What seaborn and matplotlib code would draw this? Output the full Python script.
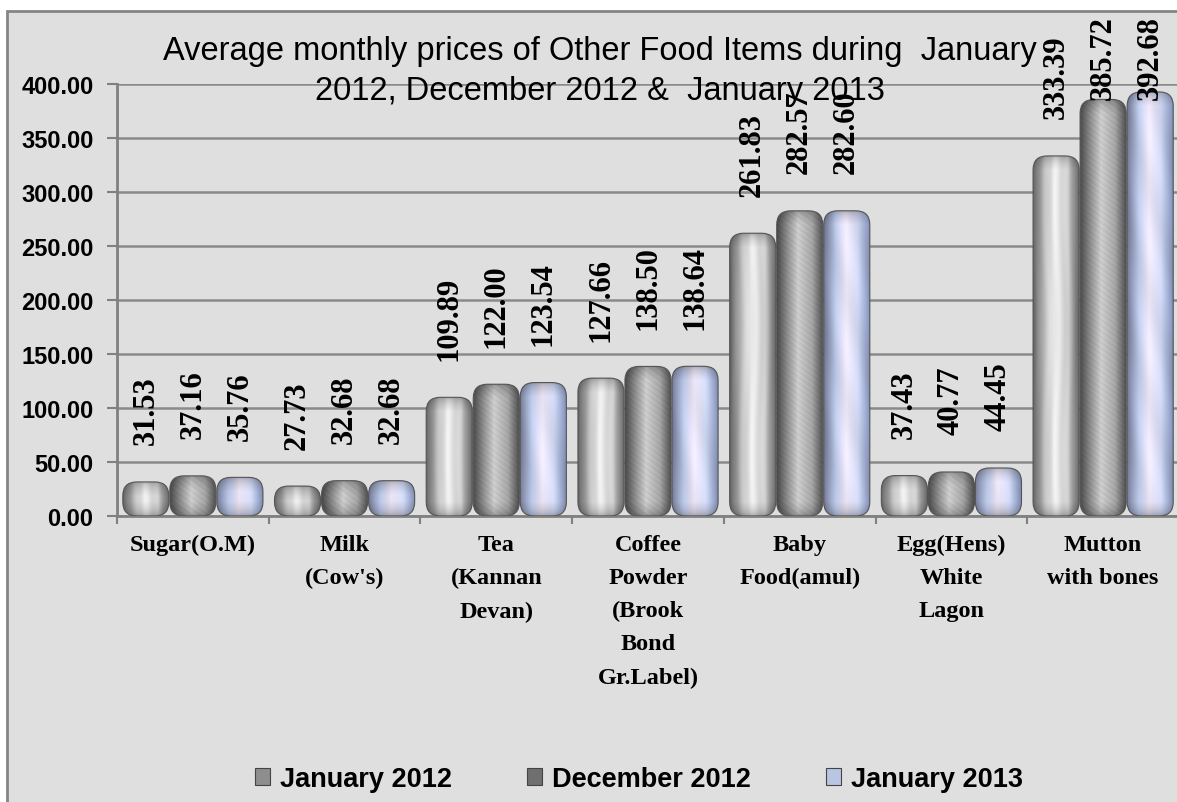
import numpy as np
import pandas as pd
import matplotlib
matplotlib.use("Agg")
import matplotlib.pyplot as plt
import seaborn as sns
from matplotlib.patches import FancyBboxPatch, Rectangle, Patch

# data
items = ["Sugar(O.M)", "Milk\n(Cow's)", "Tea\n(Kannan\nDevan)",
         "Coffee\nPowder\n(Brook\nBond\nGr.Label)", "Baby\nFood(amul)",
         "Egg(Hens)\nWhite\nLagon", "Mutton\nwith bones"]
months = ["January 2012", "December 2012", "January 2013"]
jan_2012 = [31.53, 27.73, 109.89, 127.66, 261.83, 37.43, 333.39]
dec_2012 = [37.16, 32.68, 122.00, 138.50, 282.57, 40.77, 385.72]
jan_2013 = [35.76, 32.68, 123.54, 138.64, 282.60, 44.45, 392.68]
y_ticks = [0, 50, 100, 150, 200, 250, 300, 350, 400]
title = ("Average monthly prices of Other Food Items during  January\n"
         "2012, December 2012 &  January 2013")

df = pd.DataFrame({
    "item": items * 3,
    "month": np.repeat(months, len(items)),
    "price": jan_2012 + dec_2012 + jan_2013,
})

# colour stops for the cylinder shading (edge -> centre -> edge)
shade_stops = {
    "January 2012": [(-1, (100, 100, 100)), (-0.55, (185, 185, 185)), (-0.1, (240, 240, 240)),
                     (0.5, (205, 205, 205)), (1, (95, 95, 95))],
    "December 2012": [(-1, (75, 75, 75)), (-0.5, (150, 150, 150)), (-0.1, (205, 205, 205)),
                      (0.5, (165, 165, 165)), (1, (75, 75, 75))],
    "January 2013": [(-1, (115, 122, 150)), (-0.5, (190, 203, 235)), (-0.05, (242, 234, 250)),
                     (0.45, (208, 216, 244)), (1, (125, 140, 180))],
}
legend_colors = {"January 2012": "#8e8e8e", "December 2012": "#6f6f6f", "January 2013": "#b9c6e2"}


def bar_image(month, w_px, h_px, radius):
    cols = max(int(w_px), 4)
    rows = max(int(h_px), 4)
    s = np.linspace(-1, 1, cols)
    stops = shade_stops[month]
    pos = [p for p, c in stops]
    row = np.stack([np.interp(s, pos, [c[k] for p, c in stops]) for k in range(3)], axis=-1) / 255
    yy = np.arange(rows)[:, None]
    xx = np.arange(cols)[None, :]
    if month == "January 2012":
        tex = 1 + 0.03 * np.sin(xx * 0.6 + 1.2 * np.sin(yy / 40.0))
    elif month == "December 2012":
        tex = 1 + 0.05 * np.sin(xx * 2.3) * np.sin(yy * 1.9) + 0.03 * np.sin(xx * 0.8 + yy * 1.1)
    else:
        tex = 1 + 0.03 * np.sin(yy / 17.0 + xx * 0.2)
    d = np.minimum(yy, rows - 1 - yy)
    ends = 0.68 + 0.32 * np.clip(d / radius, 0, 1) ** 0.5
    img = row[None, :, :] * (tex * ends)[:, :, None]
    return np.clip(img, 0, 1)


fig = plt.figure(figsize=(11.77, 8.03), dpi=100)
fig.patch.set_facecolor("white")
fig.patches.append(Rectangle((7 / 1177, -0.02), 1.05, 1 - 12 / 803 + 0.02,
                             transform=fig.transFigure, facecolor="#dfdfdf",
                             edgecolor="#858585", linewidth=2, zorder=-5))

ax = fig.add_axes([117 / 1177, 286 / 803, 1062 / 1177, 432 / 803])
ax.set_facecolor("none")

sns.barplot(data=df, x="item", y="price", hue="month", hue_order=months,
            palette=legend_colors, width=0.93, gap=0.02, errorbar=None,
            legend=False, ax=ax)

ax.set_ylim(0, 400)
ax.set_xlim(-0.5, 6.5)
ax.set_xlabel("")
ax.set_ylabel("")

# pixel scale of the data units, used to keep corners round
p0, p1 = ax.transData.transform([[0, 0], [1, 1]])
px_x, px_y = p1 - p0
radius_px = 14
r = radius_px / px_x
asp = px_x / px_y

for cont, month, vals in zip(ax.containers, months, [jan_2012, dec_2012, jan_2013]):
    for bar, v in zip(cont.patches, vals):
        x0, w, h = bar.get_x(), bar.get_width(), bar.get_height()
        bar.set_visible(False)
        clip = FancyBboxPatch((x0, 0), w, h, boxstyle=f"round,pad=0,rounding_size={r}",
                              mutation_aspect=asp, facecolor="none",
                              edgecolor="#555555", linewidth=0.8, zorder=4)
        ax.add_patch(clip)
        im = ax.imshow(bar_image(month, w * px_x, h * px_y, radius_px),
                       extent=[x0, x0 + w, 0, h], origin="lower", aspect="auto",
                       interpolation="bilinear", zorder=3)
        im.set_clip_path(clip)
        # labels that would leave the chart are pushed down like Excel does
        ax.annotate(f"{v:.2f}", (x0 + w / 2, min(v, 351)), xytext=(0, 27),
                    textcoords="offset points", rotation=90, ha="center", va="bottom",
                    fontsize=22, fontweight="bold", family="Liberation Serif", zorder=5,
                    annotation_clip=False)

ax.set_xlim(-0.5, 6.5)
ax.set_ylim(0, 400)

ax.set_yticks(y_ticks)
ax.set_yticklabels([f"{t:.2f}" for t in y_ticks], fontsize=17, fontweight="bold",
                   family="Liberation Sans")
ax.set_xticks(range(len(items)))
ax.set_xticklabels(items, fontsize=17.5, fontweight="bold", family="Liberation Serif",
                   linespacing=1.75, va="top")
ax.set_xticks(np.arange(-0.5, len(items), 1), minor=True)
ax.tick_params(axis="x", which="major", length=0, pad=13)
ax.tick_params(axis="x", which="minor", length=6, width=1.5, color="#808080")
ax.tick_params(axis="y", length=7, width=1.5, color="#808080", pad=10)

ax.grid(axis="y", color="#8a8a8a", linewidth=1.8)
ax.set_axisbelow(True)
for side in ["top", "right"]:
    ax.spines[side].set_visible(False)
for side in ["left", "bottom"]:
    ax.spines[side].set_color("#808080")
    ax.spines[side].set_linewidth(2)

fig.text(600 / 1177, 1 - 36 / 803, title, ha="center", va="top", fontsize=23.5,
         family="Liberation Sans", linespacing=1.38, zorder=6)

handles = [Patch(facecolor=legend_colors[m], edgecolor="#444444", linewidth=0.8) for m in months]
fig.legend(handles, months, loc="center", bbox_to_anchor=(639 / 1177, 1 - 780 / 803),
           ncol=3, frameon=False, handlelength=0.55, handleheight=0.55,
           handletextpad=0.35, columnspacing=2.8,
           prop={"family": "Liberation Sans", "weight": "bold", "size": 19.5})

fig.savefig("out.png", dpi=100)
